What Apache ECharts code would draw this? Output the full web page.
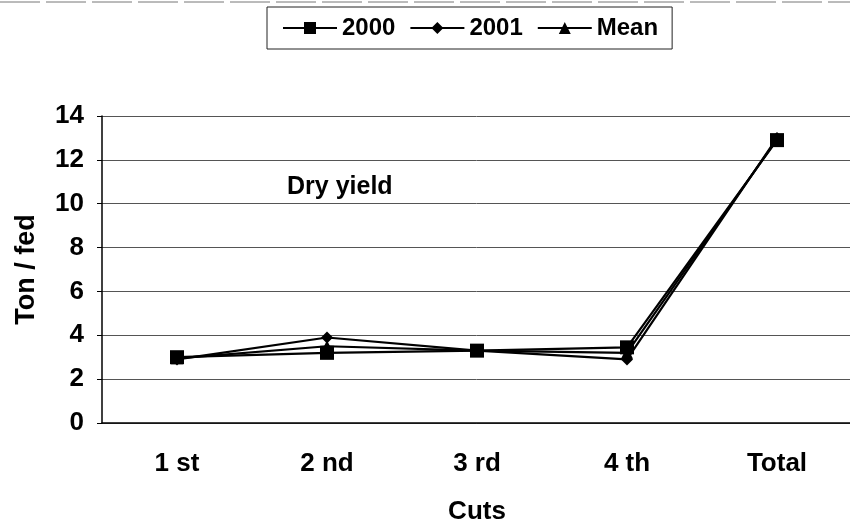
<!DOCTYPE html>
<html>
<head>
<meta charset="utf-8">
<script src="https://cdn.jsdelivr.net/npm/echarts@6/dist/echarts.min.js"></script>
<style>
  html, body { margin: 0; padding: 0; background: #fff; }
  #chart { width: 850px; height: 527px; }
</style>
</head>
<body>
<div id="chart"></div>
<script>
// data
const cuts = ['1 st', '2 nd', '3 rd', '4 th', 'Total'];
const yield2000 = [3.0, 3.2, 3.3, 3.45, 12.9];
const yield2001 = [2.9, 3.9, 3.3, 2.9, 13.0];
const yieldMean = [2.95, 3.5, 3.3, 3.2, 12.95];
const yTicks = [0, 2, 4, 6, 8, 10, 12, 14];

let dom = document.getElementById('chart');
let chart = echarts.init(dom);

const font = 'Liberation Sans, Arial, sans-serif';

function lineSeries(name, data, symbol, size) {
    return {
        name: name,
        type: 'line',
        data: data,
        symbol: symbol,
        symbolSize: size,
        lineStyle: { color: '#000', width: 2.2 },
        itemStyle: { color: '#000' },
        animation: false
    };
}

let option = {
    animation: false,
    backgroundColor: '#fff',
    textStyle: { fontFamily: font },
    legend: {
        top: 7,
        left: 267,
        padding: [9, 14, 9, 15],
        borderColor: '#222',
        borderWidth: 1,
        itemWidth: 54,
        itemHeight: 15,
        itemGap: 14,
        textStyle: { fontSize: 24, fontWeight: 'bold', color: '#000', fontFamily: font },
        data: ['2000', '2001', 'Mean']
    },
    grid: { left: 102, right: -2, top: 116, bottom: 104, containLabel: false, outerBoundsMode: 'none' },
    xAxis: {
        type: 'category',
        data: cuts,
        boundaryGap: true,
        name: 'Cuts',
        nameLocation: 'middle',
        nameGap: 76,
        nameTextStyle: { fontSize: 26, fontWeight: 'bold', color: '#000' },
        axisLine: { lineStyle: { color: '#000', width: 1.5 } },
        axisTick: { show: false },
        axisLabel: { fontSize: 26, fontWeight: 'bold', color: '#000', margin: 28 }
    },
    yAxis: {
        type: 'value',
        min: 0,
        max: 14,
        interval: 2,
        name: 'Ton / fed',
        nameLocation: 'middle',
        nameGap: 62,
        nameTextStyle: { fontSize: 27, fontWeight: 'bold', color: '#000' },
        axisLine: { show: true, lineStyle: { color: '#000', width: 1.5 } },
        axisTick: { show: true, length: 5, lineStyle: { color: '#000' } },
        axisLabel: { fontSize: 26, fontWeight: 'bold', color: '#000', margin: 18,
            formatter: function (v) { return yTicks.indexOf(v) >= 0 ? String(v) : ''; } },
        splitLine: { show: true, lineStyle: { color: '#555', width: 1 } }
    },
    graphic: [
        {
            type: 'text',
            left: 287,
            top: 175,
            style: { text: 'Dry yield', fontSize: 25, fontWeight: 'bold', fill: '#000', fontFamily: font }
        },
        {
            type: 'line',
            shape: { x1: 0, y1: 2, x2: 850, y2: 2 },
            style: { stroke: '#777', lineWidth: 1, lineDash: [40, 6] }
        }
    ],
    series: [
        lineSeries('2000', yield2000, 'rect', 14),
        lineSeries('2001', yield2001, 'diamond', 12),
        lineSeries('Mean', yieldMean, 'triangle', 12)
    ]
};

window.addEventListener('resize', function () {
    chart.resize();
});

option && chart.setOption(option);
</script>
</body>
</html>
